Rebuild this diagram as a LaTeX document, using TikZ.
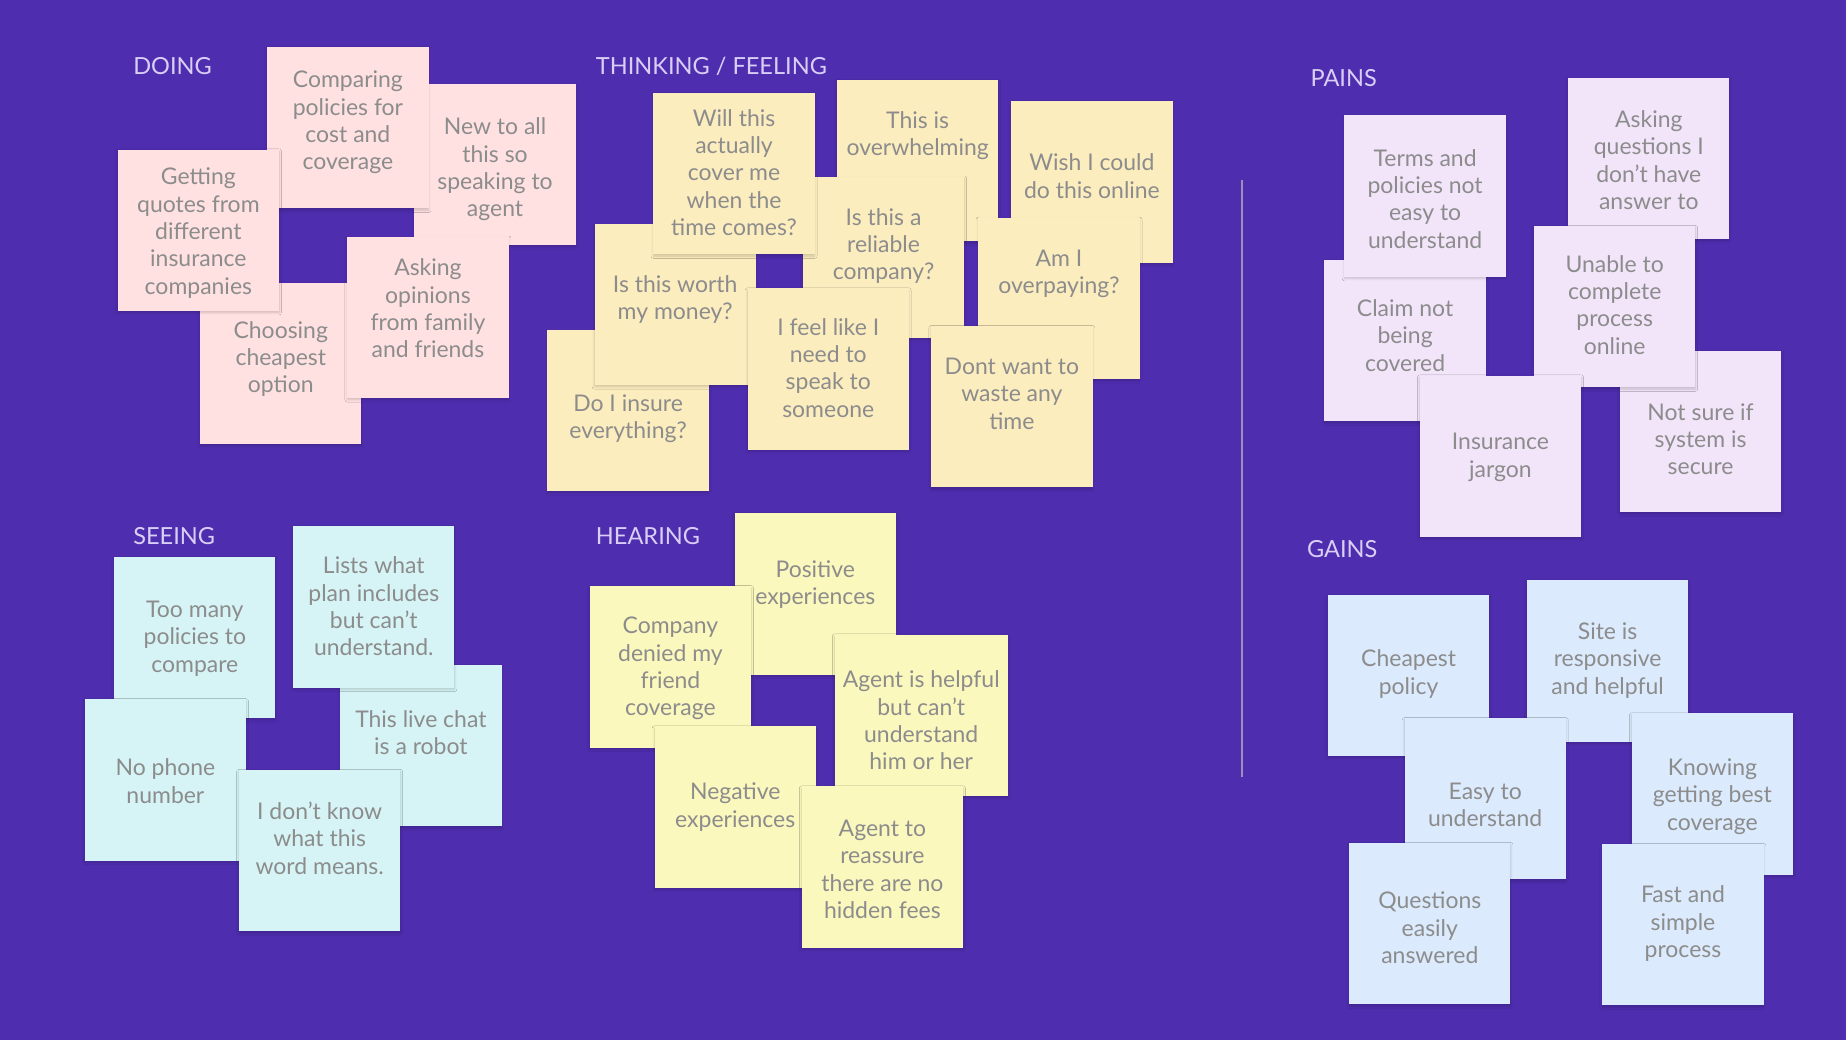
\documentclass[tikz,border=0pt]{standalone}
\usepackage{fontspec}
\setmainfont{Lato}
\usetikzlibrary{shadows.blur}
\definecolor{bg}{HTML}{4F2DAF}
\definecolor{cpink}{HTML}{FFE1E1}
\definecolor{cyel}{HTML}{FCEDBF}
\definecolor{clav}{HTML}{F2E5FA}
\definecolor{ccyan}{HTML}{D6F4F5}
\definecolor{clyel}{HTML}{FBF8BE}
\definecolor{cblue}{HTML}{DBEAFC}
\definecolor{tgray}{HTML}{8C8C8C}
\definecolor{headc}{HTML}{D9CFF6}
\definecolor{divc}{HTML}{9C8FB8}
\tikzset{
  sticky/.style={rectangle, inner sep=0pt, outer sep=0pt, minimum width=137pt, minimum height=137pt,
    blur shadow={shadow xshift=0pt, shadow yshift=-1.5pt, shadow blur radius=2pt, shadow blur steps=5, shadow opacity=18}},
  stext/.style={inner sep=0pt, align=center, text=tgray, font=\fontsize{19.5}{23.2}\selectfont},
  heading/.style={anchor=west, inner sep=0pt, text=headc, font=\fontsize{20}{24}\selectfont}
}
\newcommand\stk[7][]{%
  \node[sticky, fill=#3, anchor=north west, #1] (#2) at (#4,#5) {};
  \node[stext] (#2t) at (#2.center |- 0,#6) {#7};
}
\begin{document}
\begin{tikzpicture}[x=1pt,y=-1pt]
\useasboundingbox (0,0) rectangle (1568,883);
\fill[bg] (0,0) rectangle (1568,883);

% headings
\node[heading] (hdoing) at (113,56) {DOING};
\node[heading] (hthink) at (506,56) {THINKING / FEELING};
\node[heading] (hpains) at (1113,66) {PAINS};
\node[heading] (hgains) at (1110,466) {GAINS};
\node[heading] (hseeing) at (113,455) {SEEING};
\node[heading] (hhearing) at (506,455) {HEARING};

% divider
\coordinate (divtop) at (1055,153);
\coordinate (divbot) at (1055,660);
\draw[divc, line width=1.6pt] (divtop) -- (divbot);

% DOING
\stk{dnew}{cpink}{352}{71}{144}{New to all\\this so\\speaking to\\agent}
\stk{dcomp}{cpink}{227}{40}{104}{Comparing\\policies for\\cost and\\coverage}
\stk{dchoose}{cpink}{170}{240}{305}{Choosing\\cheapest\\option}
\stk{dget}{cpink}{100}{127}{198}{Getting\\quotes from\\different\\insurance\\companies}
\stk{dask}{cpink}{295}{201}{262}{Asking\\opinions\\from family\\and friends}

% THINKING / FEELING
\stk{tinsure}{cyel}{465}{280}{355.5}{Do I insure\\everything?}
\stk{tworth}{cyel}{505}{190}{254.5}{Is this worth\\my money?}
\stk{tover}{cyel}{711}{68}{115.5}{This is\\overwhelming}
\stk{trel}{cyel}{682}{150}{209}{Is this a\\reliable\\company?}
\stk{twill}{cyel}{555}{79}{146.5}{Will this\\actually\\cover me\\when the\\time comes?}
\stk{tfeel}{cyel}{635}{245}{312.5}{I feel like I\\need to\\speak to\\someone}
\stk{twish}{cyel}{859}{86}{149.5}{Wish I could\\do this online}
\stk{tamI}{cyel}{831}{185}{232.5}{Am I\\overpaying?}
\stk{tdont}{cyel}{791}{277}{334.5}{Dont want to\\waste any\\time}

% PAINS
\stk{pclaim}{clav}{1125}{221}{285}{Claim not\\being\\covered}
\stk{pterms}{clav}{1142}{98}{169}{Terms and\\policies not\\easy to\\understand}
\stk{pask}{clav}{1332}{66}{136}{Asking\\questions I\\don't have\\answer to}
\stk{psure}{clav}{1376}{298}{373}{Not sure if\\system is\\secure}
\stk{punable}{clav}{1303}{192}{259}{Unable to\\complete\\process\\online}
\stk{pjargon}{clav}{1206}{319}{388.5}{Insurance\\jargon}

% GAINS
\stk{gcheap}{cblue}{1128}{505}{572.5}{Cheapest\\policy}
\stk{gsite}{cblue}{1297}{493}{561}{Site is\\responsive\\and helpful}
\stk{geasy}{cblue}{1193}{610}{683.5}{Easy to\\understand}
\stk{gknow}{cblue}{1386}{606}{676.5}{Knowing\\getting best\\coverage}
\stk{gquest}{cblue}{1146}{716}{788}{Questions\\easily\\answered}
\stk{gfast}{cblue}{1361}{717}{784.5}{Fast and\\simple\\process}

% SEEING
\stk{stoo}{ccyan}{97}{473}{542.5}{Too many\\policies to\\compare}
\stk{schat}{ccyan}{289}{565}{622.5}{This live chat\\is a robot}
\stk{slists}{ccyan}{249}{447}{515}{Lists what\\plan includes\\but can't\\understand.}
\stk{sphone}{ccyan}{72}{594}{663.5}{No phone\\number}
\stk{sword}{ccyan}{203}{654}{712}{I don't know\\what this\\word means.}

% HEARING
\stk{hpos}{clyel}{624}{436}{496.5}{Positive\\experiences}
\stk{hcomp}{clyel}{501}{498}{568}{Company\\denied my\\friend\\coverage}
\stk[minimum width=147pt]{hhelp}{clyel}{709}{539}{612}{Agent is helpful\\but can't\\understand\\him or her}
\stk{hneg}{clyel}{556}{617}{685.5}{Negative\\experiences}
\stk{hreass}{clyel}{681}{668}{738.5}{Agent to\\reassure\\there are no\\hidden fees}
\end{tikzpicture}
\end{document}
